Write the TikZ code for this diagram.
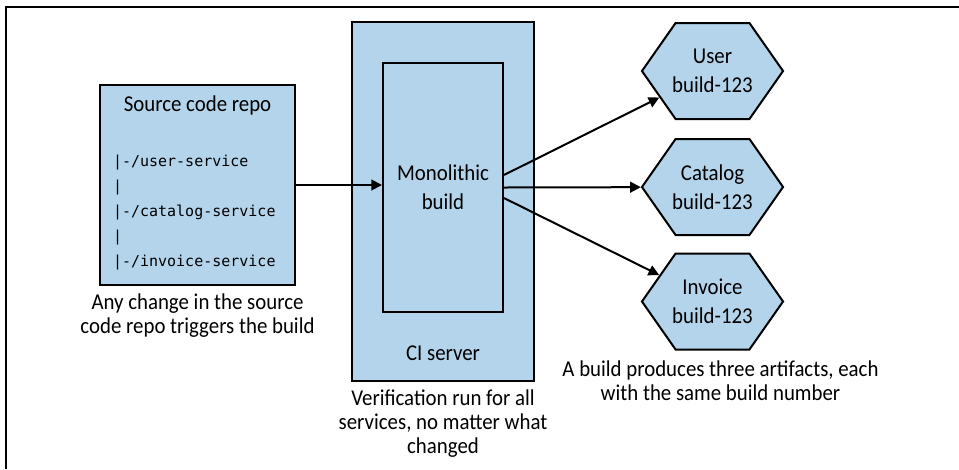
\documentclass[tikz,border=0pt]{standalone}
\usepackage{fontspec}
\setmainfont{Carlito}[FakeStretch=0.92]
\setmonofont{DejaVu Sans Mono}
\usetikzlibrary{positioning,arrows.meta,shapes.symbols}
\definecolor{boxblue}{RGB}{179,212,234}

\begin{document}
\begin{tikzpicture}[x=0.75pt, y=-0.75pt, line width=1.5pt, node distance=4pt,
    box/.style={draw, fill=boxblue, inner sep=0pt},
    artifact/.style={draw, fill=boxblue, signal, signal to=west and east, signal pointer angle=110,
        minimum width=105.75pt, minimum height=72pt, inner ysep=0pt, inner xsep=-2.5pt, align=center, font=\fontsize{17}{21.5}\selectfont},
    caption/.style={align=center, inner sep=0pt, font=\fontsize{17}{18}\selectfont},
    arrow/.style={-{Triangle[length=8pt,width=8pt]}}]

    \useasboundingbox (0,0) rectangle (959,469);
    \draw (6,469) -- (6,7) -- (959,7);

    % source repository
    \node (repo) [box, minimum width=146.25pt, minimum height=150pt] at (197.5,185) {};
    \node (repo title) [caption] at (197.5,105) {Source code repo};
    \node (repo tree) [anchor=west, align=left, inner sep=0pt, font=\ttfamily\fontsize{11.25}{18.75}\selectfont] at (112,213)
        {|-/user-service\\|\\|-/catalog-service\\|\\|-/invoice-service};
    \node (repo note) [caption, below=5pt of repo] {Any change in the source\\code repo triggers the build};

    % CI server
    \node (ci) [box, minimum width=136.5pt, minimum height=269.25pt] at (443,201.5) {};
    \node (build) [box, minimum width=90pt, minimum height=186.75pt, align=center, font=\fontsize{17}{22}\selectfont] at (443,187.5) {Monolithic\\build};
    \node (ci label) [caption] at (443,353) {CI server};
    \node (ci note) [caption, below=5pt of ci] {Verification run for all\\services, no matter what\\changed};

    % artifacts
    \node (user) [artifact] at (712.5,71) {User\\build-123};
    \node (catalog) [artifact] at (712.5,187) {Catalog\\build-123};
    \node (invoice) [artifact] at (712.5,301.5) {Invoice\\build-123};
    \node (artifact note) [caption, below=7pt of invoice, xshift=6pt] {A build produces three artifacts, each\\with the same build number};

    \draw [arrow] (repo.east) -- (repo.east -| build.west);
    \draw [arrow] ([yshift=9.4pt]build.east) -- (user);
    \draw [arrow] (build.east) -- (catalog);
    \draw [arrow] ([yshift=-7.9pt]build.east) -- (invoice);

\end{tikzpicture}
\end{document}
